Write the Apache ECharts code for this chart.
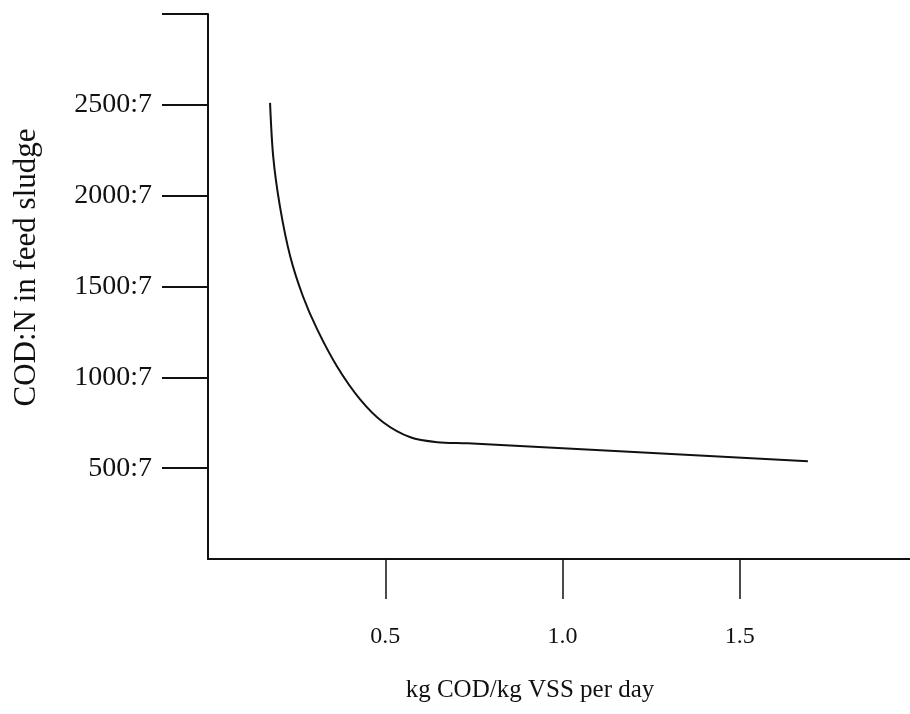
<!DOCTYPE html>
<html>
<head>
<meta charset="utf-8">
<script src="https://cdn.jsdelivr.net/npm/echarts@6/dist/echarts.min.js"></script>
<style>
  html, body { margin: 0; padding: 0; background: #fff; }
  #chart { width: 910px; height: 714px; }
</style>
</head>
<body>
<div id="chart"></div>
<script>
// loading rate (kg COD/kg VSS per day) vs COD:N ratio
const loadRate = [0.175, 0.184, 0.203, 0.232, 0.268, 0.308, 0.364, 0.429, 0.494, 0.571, 0.647, 0.732, 1.692];
const codRatio = [2511, 2214, 1940, 1665, 1445, 1264, 1060, 879, 753, 670, 643, 637, 538];

const xTicks = [0.5, 1.0, 1.5];
const yTicks = [500, 1000, 1500, 2000, 2500, 3000];
const yLabels = [500, 1000, 1500, 2000, 2500];

const chart = echarts.init(document.getElementById("chart"));
const serif = "Liberation Serif";

const option = {
  backgroundColor: "#fff",
  animation: false,
  grid: {
    left: 208,
    right: 0,
    top: 14,
    bottom: 155,
  },
  xAxis: {
    type: "value",
    min: 0,
    max: 1.98,
    name: "kg COD/kg VSS per day",
    nameLocation: "middle",
    nameGap: 119,
    nameTextStyle: { fontFamily: serif, fontSize: 25, color: "#111", padding: [0, 58, 0, 0] },
    axisLine: { show: true, lineStyle: { color: "#111", width: 2 } },
    axisTick: {
      show: true,
      length: 40,
      customValues: xTicks,
      lineStyle: { color: "#111", width: 1.5 },
    },
    axisLabel: {
      margin: 66,
      fontFamily: serif,
      fontSize: 24,
      color: "#111",
      customValues: xTicks,
      formatter: (v) => v.toFixed(1),
    },
    splitLine: { show: false },
  },
  yAxis: {
    type: "value",
    min: 0,
    max: 3000,
    interval: 500,
    name: "COD:N in feed sludge",
    nameLocation: "middle",
    nameGap: 166,
    nameTextStyle: { fontFamily: serif, fontSize: 31, color: "#111", padding: [0, 0, 0, 38] },
    axisLine: { show: true, lineStyle: { color: "#111", width: 2 } },
    axisTick: {
      show: true,
      length: 46,
      customValues: yTicks,
      lineStyle: { color: "#111", width: 2 },
    },
    axisLabel: {
      margin: 56,
      fontFamily: serif,
      fontSize: 28,
      color: "#111",
      customValues: yLabels,
      formatter: (v) => v + ":7",
    },
    splitLine: { show: false },
  },
  series: [
    {
      type: "line",
      data: loadRate.map((x, i) => [x, codRatio[i]]),
      smooth: 0.3,
      symbol: "none",
      lineStyle: { color: "#111", width: 2 },
    },
  ],
};

chart.setOption(option);
</script>
</body>
</html>
